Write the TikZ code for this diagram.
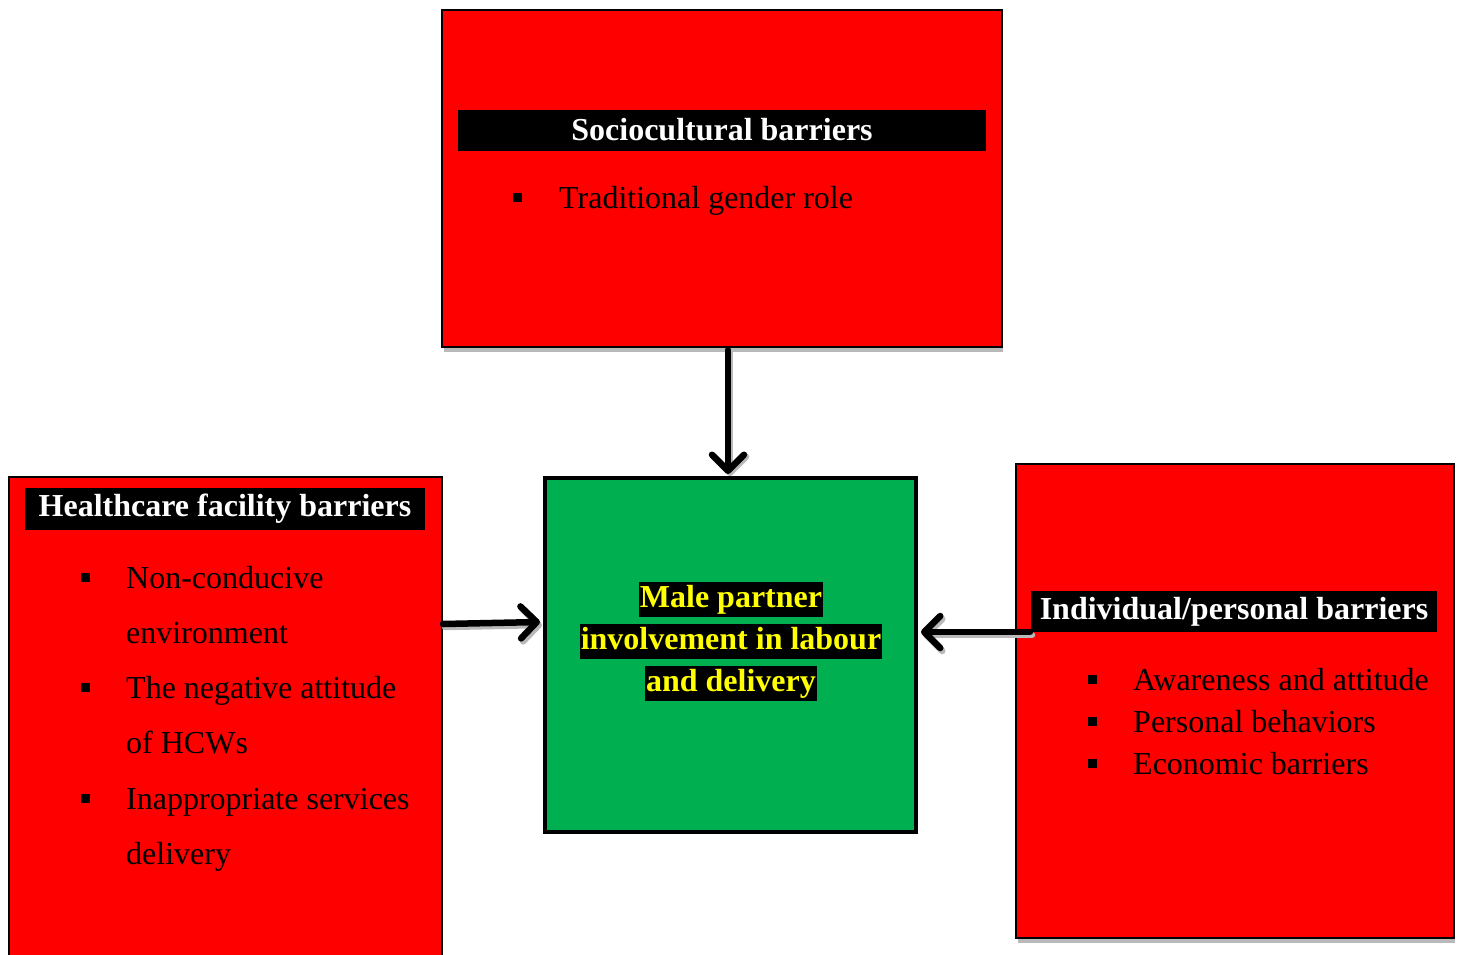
\documentclass[tikz,border=0pt]{standalone}
\usepackage{fontspec}
\setmainfont{Liberation Serif}
\usetikzlibrary{arrows.meta}
\definecolor{boxred}{RGB}{255,0,0}
\definecolor{boxgreen}{RGB}{0,176,80}
\definecolor{hlyellow}{RGB}{255,255,0}
\tikzset{
  redbox/.style={draw=black, line width=2pt, fill=boxred, inner sep=0pt},
  greenbox/.style={draw=black, line width=4.5pt, fill=boxgreen, inner sep=0pt},
  headbar/.style={fill=black, text=white, inner sep=0pt, font=\fontsize{32}{38}\selectfont\bfseries},
  itemtext/.style={anchor=base west, inner sep=0pt, font=\fontsize{32}{38}\selectfont},
  bulletsq/.style={fill=black, minimum size=9pt, inner sep=0pt},
  hltext/.style={fill=black, text=hlyellow, inner xsep=1pt, inner ysep=1.5pt, text height=24pt, text depth=8pt, font=\fontsize{32}{38}\selectfont\bfseries},
  shadowstrip/.style={fill=gray!55},
  flow/.style={line width=6.5pt, line cap=round, -{Straight Barb[length=16pt, width=32pt, line cap=round, line join=round]}},
  flowshadow/.style={flow, draw=gray!55},
}
\begin{document}
\begin{tikzpicture}[x=1pt, y=-1pt]
\useasboundingbox (0,0) rectangle (1460,954);
% shadows
\fill[shadowstrip] (444,347) rectangle (1003,352);
\fill[shadowstrip] (1018,938) rectangle (1455,943);
% boxes
\node[redbox, minimum width=560pt, minimum height=337pt] (top) at (722,178.5) {};
\node[redbox, minimum width=433pt, minimum height=490pt] (left) at (225.5,722) {};
\node[redbox, minimum width=438pt, minimum height=474pt] (right) at (1235,701) {};
\node[greenbox, minimum width=371pt, minimum height=354pt] (center) at (730.5,655) {};
% headers
\node[headbar, minimum width=528pt, minimum height=41pt] (toph) at (722,130) {Sociocultural barriers};
\node[headbar, minimum width=400pt, minimum height=42pt] (lefth) at (225,509) {Healthcare facility barriers};
\node[headbar, minimum width=406pt, minimum height=41pt] (righth) at (1234,611.5) {Individual/personal barriers};
% top items
\node[bulletsq] (tb1) at (517,197) {};
\node[itemtext] (tt1) at (559,208) {Traditional gender role};
% left items
\node[bulletsq] (lb1) at (85,577) {};
\node[itemtext] (lt1) at (126,588) {Non-conducive};
\node[itemtext] (lt1b) at (126,643) {environment};
\node[bulletsq] (lb2) at (85,687) {};
\node[itemtext] (lt2) at (126,698) {The negative attitude};
\node[itemtext] (lt2b) at (126,753) {of HCWs};
\node[bulletsq] (lb3) at (85,798) {};
\node[itemtext] (lt3) at (126,809) {Inappropriate services};
\node[itemtext] (lt3b) at (126,864) {delivery};
% right items
\node[bulletsq] (rb1) at (1092,679) {};
\node[itemtext] (rt1) at (1133,690) {Awareness and attitude};
\node[bulletsq] (rb2) at (1092,721) {};
\node[itemtext] (rt2) at (1133,732) {Personal behaviors};
\node[bulletsq] (rb3) at (1092,763) {};
\node[itemtext] (rt3) at (1133,774) {Economic barriers};
% center text
\node[hltext] (c1) at (731,599) {Male partner};
\node[hltext] (c2) at (731,641) {involvement in labour};
\node[hltext] (c3) at (731,683) {and delivery};
% connector anchors
\coordinate (ta) at (728,350);
\coordinate (tb) at (728,474);
\coordinate (la) at (443,624);
\coordinate (lb) at (540,622);
\coordinate (ra) at (1030,632);
\coordinate (rb) at (921,632);
% arrow shadows
\draw[flowshadow] ([shift={(2,3)}]la) -- ([shift={(2,3)}]lb);
\draw[flowshadow] ([shift={(2,3)}]ra) -- ([shift={(2,3)}]rb);
\draw[flowshadow] ([shift={(2,2)}]ta) -- ([shift={(2,2)}]tb);
% arrows
\draw[flow] (ta) -- (tb);
\draw[flow] (la) -- (lb);
\draw[flow] (ra) -- (rb);
\end{tikzpicture}
\end{document}
